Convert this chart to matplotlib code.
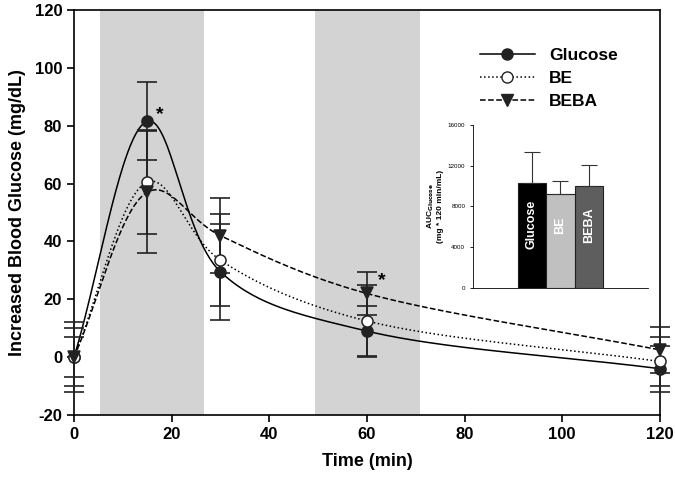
import numpy as np
import matplotlib.pyplot as plt

plt.rcParams['font.family'] = ['Liberation Sans', 'DejaVu Sans']
plt.rcParams['axes.unicode_minus'] = False

# time course data
time = [0, 15, 30, 60, 120]
glucose_mean = [0, 81.5, 29.5, 9.0, -4.0]
glucose_err = [10, 13.5, 16.5, 8.5, 8]
be_mean = [0, 60.5, 33.5, 12.5, -1.5]
be_err = [7, 18, 16, 12.5, 8.5]
beba_mean = [0, 57, 42, 22, 2.5]
beba_err = [12, 21, 13, 7.5, 8]

# shaded periods (min)
bands = [(5.3, 26.7), (49.4, 70.8)]

# inset AUC data
auc_labels = ['Glucose', 'BE', 'BEBA']
auc_mean = [10300, 9200, 10050]
auc_err = [3000, 1250, 2050]
auc_colors = ['#000000', '#c0c0c0', '#5e5e5e']

XS, YS = 4.875, 2.893  # px per data unit, smoothing is done in screen space


def smooth(xs, ys, n=60, alpha=0.25):
    # Catmull-Rom through the points, in screen-like units
    p = np.column_stack([np.asarray(xs, float) * XS, np.asarray(ys, float) * YS])
    p = np.vstack([2 * p[0] - p[1], p, 2 * p[-1] - p[-2]])
    out = []
    for i in range(1, len(p) - 2):
        p0, p1, p2, p3 = p[i - 1], p[i], p[i + 1], p[i + 2]
        t0 = 0.0
        t1 = t0 + np.linalg.norm(p1 - p0) ** alpha
        t2 = t1 + np.linalg.norm(p2 - p1) ** alpha
        t3 = t2 + np.linalg.norm(p3 - p2) ** alpha
        t = np.linspace(t1, t2, n)[:, None]
        a1 = (t1 - t) / (t1 - t0) * p0 + (t - t0) / (t1 - t0) * p1
        a2 = (t2 - t) / (t2 - t1) * p1 + (t - t1) / (t2 - t1) * p2
        a3 = (t3 - t) / (t3 - t2) * p2 + (t - t2) / (t3 - t2) * p3
        b1 = (t2 - t) / (t2 - t0) * a1 + (t - t0) / (t2 - t0) * a2
        b2 = (t3 - t) / (t3 - t1) * a2 + (t - t1) / (t3 - t1) * a3
        out.append((t2 - t) / (t2 - t1) * b1 + (t - t1) / (t2 - t1) * b2)
    out = np.vstack(out)
    return out[:, 0] / XS, out[:, 1] / YS


fig = plt.figure(figsize=(6.75, 4.84), dpi=100)
ax = fig.add_axes([0.1096, 0.1426, 0.868, 0.8368])

for a, b in bands:
    ax.axvspan(a, b, color='#d3d3d3', lw=0, zorder=0)

series = [
    ('Glucose', glucose_mean, glucose_err, '-', 'o', '#222222'),
    ('BE', be_mean, be_err, ':', 'o', 'white'),
    ('BEBA', beba_mean, beba_err, '--', 'v', '#222222'),
]
for name, m, e, ls, mk, fc in series:
    sx, sy = smooth(time, m)
    ax.plot(sx, sy, color='black', ls=ls, lw=1.1, zorder=2)
    ax.errorbar(time, m, yerr=e, fmt='none', ecolor='#222222', elinewidth=1.2,
                capsize=7, capthick=1.2, zorder=3, clip_on=False)
    ax.plot(time, m, ls='none', marker=mk, ms=8, mfc=fc, mec='#222222', mew=1.1,
            zorder=4, clip_on=False)
    ax.plot([], [], color='black', ls=ls, lw=1.1, marker=mk, ms=8, mfc=fc,
            mec='#222222', label=name)

ax.text(17.5, 84, '*', fontsize=14, fontweight='bold', ha='center', va='center')
ax.text(63, 26.5, '*', fontsize=14, fontweight='bold', ha='center', va='center')

ax.set_xlim(0, 120)
ax.set_ylim(-20, 120)
ax.set_xticks(range(0, 121, 20))
ax.set_yticks(range(-20, 121, 20))
ax.tick_params(direction='out', length=5, width=1.2, labelsize=12)
for lab in ax.get_xticklabels() + ax.get_yticklabels():
    lab.set_fontweight('bold')
for s in ax.spines.values():
    s.set_linewidth(1.2)
ax.set_xlabel('Time (min)', fontsize=13, fontweight='bold', labelpad=8)
ax.set_ylabel('Increased Blood Glucose (mg/dL)', fontsize=13, fontweight='bold', labelpad=6)

leg = ax.legend(loc='upper right', bbox_to_anchor=(0.955, 0.945), frameon=False,
                prop={'weight': 'bold', 'size': 12.5}, handlelength=3.2,
                handletextpad=0.8, labelspacing=0.45)

# inset bar chart
ins = fig.add_axes([0.7007, 0.405, 0.259, 0.337])
xpos = np.arange(len(auc_labels))
ins.bar(xpos, auc_mean, width=1.0, color=auc_colors, edgecolor='#222222', lw=0.8)
ins.errorbar(xpos, auc_mean, yerr=[[0] * 3, auc_err], fmt='none', ecolor='#333333',
             elinewidth=0.8, capsize=6, capthick=0.8)
for x, lab in zip(xpos, auc_labels):
    ins.text(x, 6200, lab, rotation=90, color='white', ha='center', va='center',
             fontsize=9, fontweight='bold')
ins.set_xlim(-2.07, 4.07)
ins.set_ylim(0, 16000)
ins.set_xticks([])
ins.set_yticks(range(0, 16001, 4000))
ins.tick_params(axis='y', direction='out', length=2, width=0.6, labelsize=4.5)
ins.spines['top'].set_visible(False)
ins.spines['right'].set_visible(False)
ins.spines['left'].set_linewidth(0.6)
ins.spines['bottom'].set_linewidth(0.6)
ins.set_ylabel('AUC$_{\\mathbf{Glucose}}$\n(mg * 120 min/mL)', fontsize=6,
               fontweight='bold', labelpad=3)
ins.patch.set_alpha(0)

fig.savefig('out.png', dpi=100)
